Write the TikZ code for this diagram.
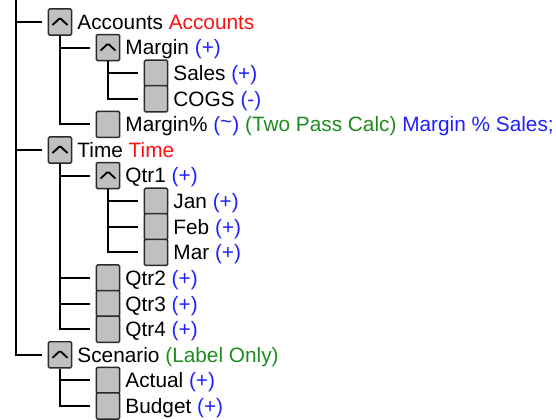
\documentclass[tikz,border=0pt]{standalone}
\usepackage{fontspec}
\setmainfont{Liberation Sans}
\usepackage{xcolor}
\usepackage{tikz}
\usetikzlibrary{positioning}

\definecolor{outred}{HTML}{FF1010}
\definecolor{outblue}{HTML}{2020FF}
\definecolor{outgreen}{HTML}{1E8C1E}
\definecolor{boxgray}{HTML}{C0C0C0}
\definecolor{boxedge}{HTML}{2A2A2A}

\begin{document}
\begin{tikzpicture}[x=0.75pt, y=-0.75pt,
    member/.style={draw=boxedge, fill=boxgray, line width=1.1pt, rounded corners=1pt,
        minimum width=17.5pt, minimum height=19.6pt, inner sep=0pt},
    openmember/.style={member, path picture={
        \draw[line width=1.4pt, black] ([shift={(-7.5,3)}]path picture bounding box.center)
            -- ++(7.5,-7) -- ++(7.5,7);}},
    lbl/.style={inner sep=0pt, text height=14.4pt, text depth=3.3pt,
        font=\fontsize{15.6}{18}\selectfont},
    branch/.style={line width=1.4pt, shorten >=4.5pt}]
    \useasboundingbox[fill=white] (0,0) rectangle (556,420);

    % Members
    \node[openmember] (acc) at (60,22) {};
    \node[openmember] (mar) at (108,47.6) {};
    \node[member] (sal) at (156,73.2) {};
    \node[member] (cog) at (156,98.8) {};
    \node[member] (mpc) at (108,124.4) {};
    \node[openmember] (tim) at (60,150) {};
    \node[openmember] (qt1) at (108,175.6) {};
    \node[member] (jan) at (156,201.2) {};
    \node[member] (feb) at (156,226.8) {};
    \node[member] (mrc) at (156,252.4) {};
    \node[member] (qt2) at (108,278) {};
    \node[member] (qt3) at (108,303.6) {};
    \node[member] (qt4) at (108,329.2) {};
    \node[openmember] (scn) at (60,354.8) {};
    \node[member] (act) at (108,380.4) {};
    \node[member] (bud) at (108,406) {};

    % Labels
    \node[lbl, right=3.6pt of acc] (accl) {Accounts \textcolor{outred}{Accounts}};
    \node[lbl, right=3.6pt of mar] (marl) {Margin \textcolor{outblue}{(+)}};
    \node[lbl, right=3.6pt of sal] (sall) {Sales \textcolor{outblue}{(+)}};
    \node[lbl, right=3.6pt of cog] (cogl) {COGS \textcolor{outblue}{(-)}};
    \node[lbl, right=3.6pt of mpc] (mpcl) {Margin\% \textcolor{outblue}{(\raisebox{0.3ex}{\char`~})} \textcolor{outgreen}{(Two Pass Calc)} \textcolor{outblue}{Margin \% Sales;}};
    \node[lbl, right=3.6pt of tim] (timl) {Time \textcolor{outred}{Time}};
    \node[lbl, right=3.6pt of qt1] (qt1l) {Qtr1 \textcolor{outblue}{(+)}};
    \node[lbl, right=3.6pt of jan] (janl) {Jan \textcolor{outblue}{(+)}};
    \node[lbl, right=3.6pt of feb] (febl) {Feb \textcolor{outblue}{(+)}};
    \node[lbl, right=3.6pt of mrc] (mrcl) {Mar \textcolor{outblue}{(+)}};
    \node[lbl, right=3.6pt of qt2] (qt2l) {Qtr2 \textcolor{outblue}{(+)}};
    \node[lbl, right=3.6pt of qt3] (qt3l) {Qtr3 \textcolor{outblue}{(+)}};
    \node[lbl, right=3.6pt of qt4] (qt4l) {Qtr4 \textcolor{outblue}{(+)}};
    \node[lbl, right=3.6pt of scn] (scnl) {Scenario \textcolor{outgreen}{(Label Only)}};
    \node[lbl, right=3.6pt of act] (actl) {Actual \textcolor{outblue}{(+)}};
    \node[lbl, right=3.6pt of bud] (budl) {Budget \textcolor{outblue}{(+)}};

    % Tree lines
    \coordinate (root) at (16,0);
    \draw[branch] (root) |- (acc.west);
    \draw[branch] (root) |- (tim.west);
    \draw[branch] (root) |- (scn.west);

    \draw[branch] (acc.south) |- (mar.west);
    \draw[branch] (acc.south) |- (mpc.west);
    \draw[branch] (mar.south) |- (sal.west);
    \draw[branch] (mar.south) |- (cog.west);

    \draw[branch] (tim.south) |- (qt1.west);
    \draw[branch] (tim.south) |- (qt2.west);
    \draw[branch] (tim.south) |- (qt3.west);
    \draw[branch] (tim.south) |- (qt4.west);
    \draw[branch] (qt1.south) |- (jan.west);
    \draw[branch] (qt1.south) |- (feb.west);
    \draw[branch] (qt1.south) |- (mrc.west);

    \draw[branch] (scn.south) |- (act.west);
    \draw[branch] (scn.south) |- (bud.west);
\end{tikzpicture}
\end{document}
